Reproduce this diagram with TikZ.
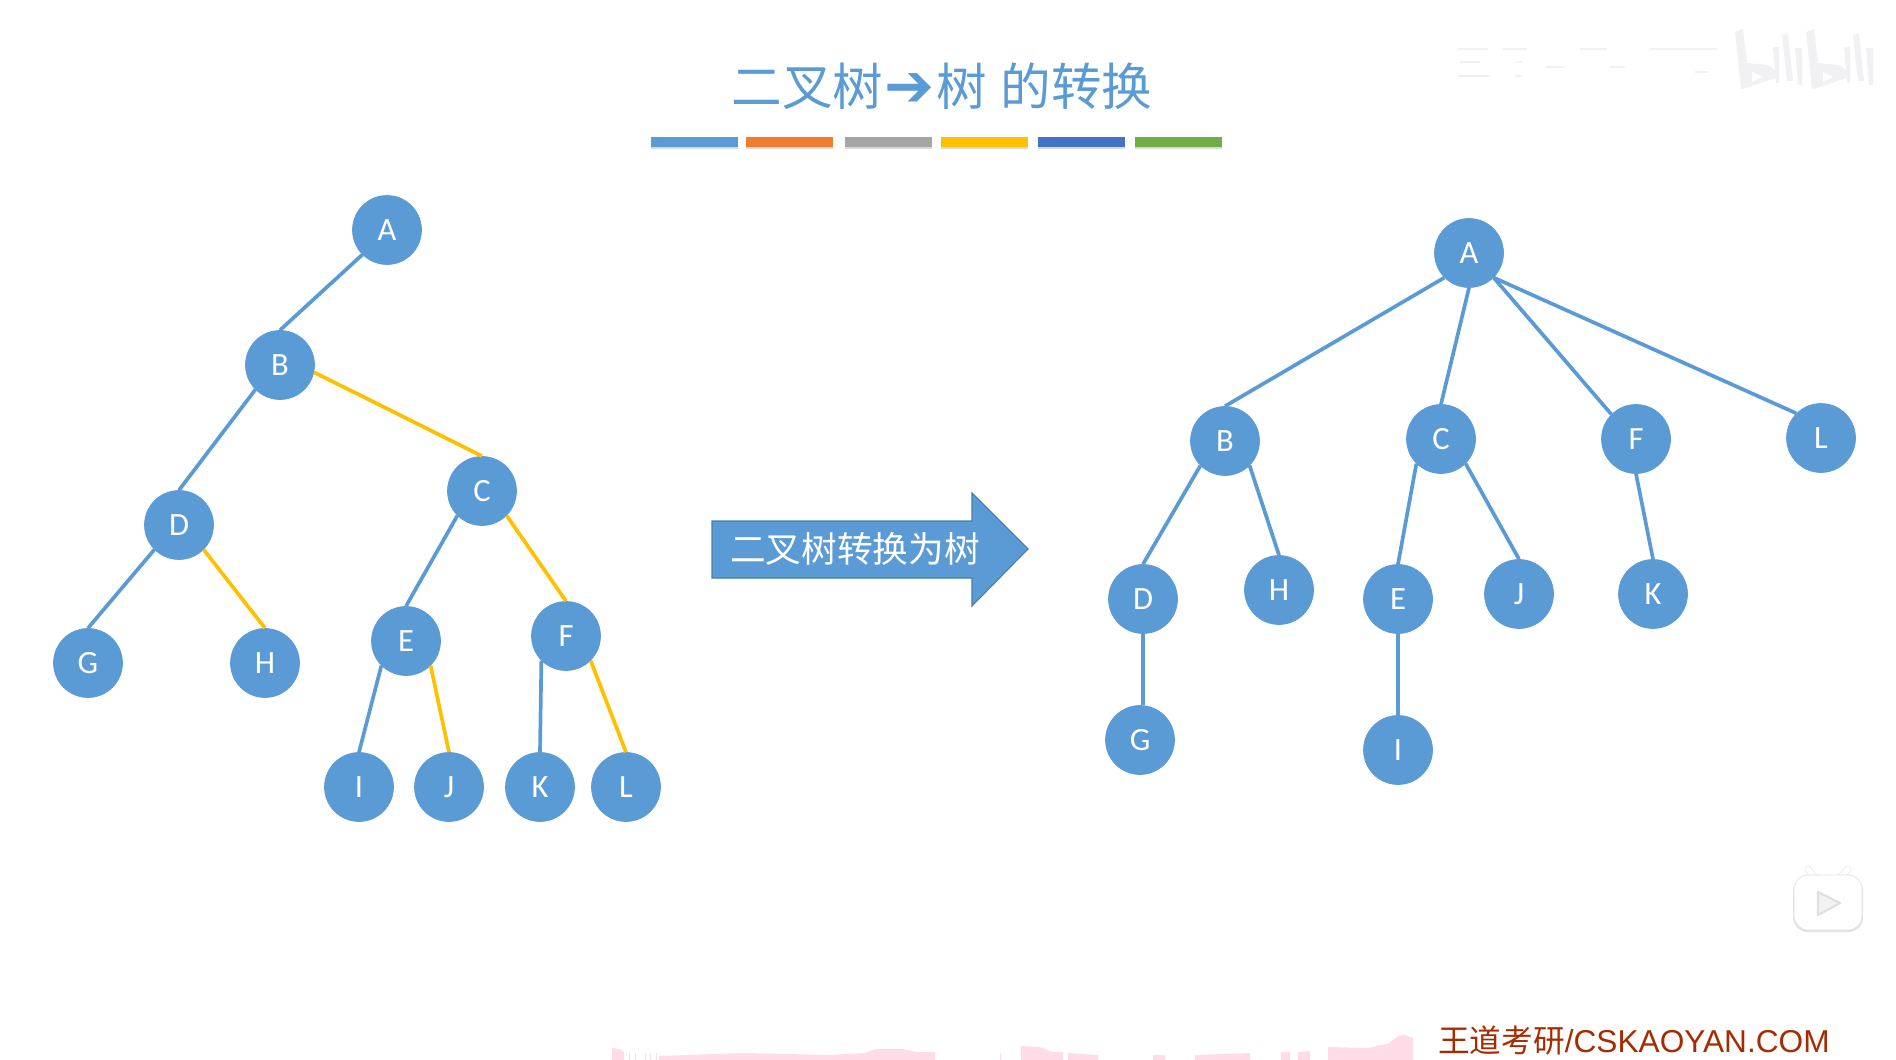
\documentclass[tikz,border=0pt]{standalone}
\usepackage{fontspec}
\usetikzlibrary{shadows}
\setmainfont{Carlito}
\newfontfamily\cjk{Noto Sans CJK SC}
\newfontfamily\arrowfont{DejaVu Sans}
\newfontfamily\footfont{Liberation Sans}
\definecolor{treeblue}{HTML}{5B9BD5}
\definecolor{treeyellow}{HTML}{FFC000}
\definecolor{barorange}{HTML}{ED7D31}
\definecolor{bargrey}{HTML}{A5A5A5}
\definecolor{barblue}{HTML}{4472C4}
\definecolor{bargreen}{HTML}{70AD47}
\definecolor{footred}{HTML}{A62B00}
\definecolor{bandpink}{HTML}{FFDCE8}
\definecolor{markgrey}{HTML}{F1F0F2}
\tikzset{
  vertex/.style={circle,fill=treeblue,draw=treeblue,inner sep=0pt,minimum size=1.38cm,text=white,font=\fontsize{18.5}{18}\selectfont},
  bluelink/.style={draw=treeblue,line width=2.1pt},
  yellowlink/.style={draw=treeyellow,line width=2.1pt},
  titlebar/.style={minimum width=1.74cm,minimum height=.2cm,inner sep=0pt,drop shadow={shadow xshift=0pt,shadow yshift=-1.2pt,opacity=.3}}
}
\begin{document}
\begin{tikzpicture}[x=.02cm,y=-.02cm]
\useasboundingbox (0,0) rectangle (1896,1060);
% watermark
\fill[bandpink] (612,1060) -- (612,1048) -- (620,1049) -- (624,1052) -- (624,1060) -- cycle
  (659,1060) -- (659,1056) -- (744,1053) -- (830,1055) -- (865,1053) -- (876,1049) -- (903,1049) -- (917,1052) -- (935,1052) -- (935,1060) -- cycle
  (1021,1060) -- (1021,1046) -- (1040,1047) -- (1052,1052) -- (1063,1052) -- (1063,1060) -- cycle
  (1068,1060) -- (1068,1053) -- (1098,1055) -- (1098,1060) -- cycle
  (1153,1060) -- (1153,1055) -- (1165,1055) -- (1165,1060) -- cycle
  (1195,1060) -- (1195,1055) -- (1250,1053) -- (1250,1060) -- cycle
  (1281,1060) -- (1281,1052) -- (1290,1052) -- (1290,1060) -- cycle
  (1298,1060) -- (1298,1052) -- (1310,1051) -- (1310,1060) -- cycle
  (1328,1060) -- (1328,1047) -- (1369,1048) -- (1380,1045) -- (1388,1044) -- (1398,1036) -- (1405,1035) -- (1413,1038) -- (1413,1060) -- cycle;
\foreach \px in {629,635,645,650,656,1000}
  \fill[bandpink] (\px,1053) rectangle (\px+1,1060);
\foreach \dx in {0,71} {
  \fill[markgrey] (1735+\dx,32) -- (1743+\dx,29) -- (1747+\dx,63) -- (1767+\dx,65) .. controls (1775+\dx,68) and (1778+\dx,74) .. (1775+\dx,78) -- (1743+\dx,89) -- (1741+\dx,89) -- cycle
    (1773+\dx,47) -- (1779+\dx,47) -- (1779+\dx,83) -- (1776+\dx,83) -- cycle
    (1782+\dx,35) -- (1788+\dx,34) -- (1793+\dx,81) -- (1787+\dx,81) -- cycle
    (1795+\dx,48) -- (1802+\dx,48) -- (1802+\dx,85) -- (1798+\dx,85) -- cycle;
  \fill[white] (1752+\dx,72) -- (1762+\dx,77) -- (1752+\dx,82) -- cycle;
}
\foreach \ya/\xa/\xb in {49/1458/1488,49/1503/1527,49/1580/1607,49/1650/1717,62/1460/1480,62/1515/1522,67/1545/1565,67/1610/1625,76/1458/1490,76/1515/1522,72/1695/1708}
  \draw[markgrey,line width=.8pt] (\xa,\ya) -- (\xb,\ya);
% title
\node (title) at (942,86) {\fontsize{28.8}{29}\selectfont\color{treeblue}\cjk 二叉树\makebox[30pt]{\raisebox{-.5pt}{\fontsize{34}{34}\selectfont\arrowfont ➔}}树\hspace{8pt}的转换};
\node[titlebar,fill=treeblue] (bar1) at (694,142) {};
\node[titlebar,fill=barorange] (bar2) at (789.5,142) {};
\node[titlebar,fill=bargrey] (bar3) at (888,142) {};
\node[titlebar,fill=treeyellow] (bar4) at (984.5,142) {};
\node[titlebar,fill=barblue] (bar5) at (1081,142) {};
\node[titlebar,fill=bargreen] (bar6) at (1178.5,142) {};
% binary tree
\node[vertex] (A) at (387,230) {A};
\node[vertex] (B) at (280,365) {B};
\node[vertex] (C) at (482,491) {C};
\node[vertex] (D) at (179,525) {D};
\node[vertex] (E) at (406,641) {E};
\node[vertex] (F) at (566,636) {F};
\node[vertex] (G) at (88,663) {G};
\node[vertex] (H) at (265,663) {H};
\node[vertex] (I) at (359,787) {I};
\node[vertex] (J) at (449,787) {J};
\node[vertex] (K) at (540,787) {K};
\node[vertex] (L) at (626,787) {L};
\draw[bluelink] (A.south west) -- (B.north);
\draw[bluelink] (B.south west) -- (D.north);
\draw[yellowlink] (B.-12) -- (C.north);
\draw[bluelink] (D.south west) -- (G.north);
\draw[yellowlink] (D.south east) -- (H.north);
\draw[bluelink] (C.south west) -- (E.north);
\draw[yellowlink] (C.south east) -- (F.north);
\draw[bluelink] (E.south west) -- (I.north);
\draw[yellowlink] (E.south east) -- (J.north);
\draw[bluelink] (F.south west) -- (K.north);
\draw[yellowlink] (F.south east) -- (L.north);
% arrow
\fill[treeblue,draw=treeblue!80!black,line width=.6pt] (712,521) -- (972,521) -- (972,493) -- (1028,549) -- (972,606) -- (972,578) -- (712,578) -- cycle;
\node[text=white,font=\fontsize{20.3}{20}\selectfont\cjk] (turn) at (855,549) {二叉树转换为树};
% tree
\node[vertex] (rA) at (1469,253) {A};
\node[vertex] (rB) at (1225,441) {B};
\node[vertex] (rC) at (1441,439) {C};
\node[vertex] (rF) at (1636,439) {F};
\node[vertex] (rL) at (1821,438) {L};
\node[vertex] (rD) at (1143,599) {D};
\node[vertex] (rH) at (1279,590) {H};
\node[vertex] (rE) at (1398,599) {E};
\node[vertex] (rJ) at (1519,594) {J};
\node[vertex] (rK) at (1653,594) {K};
\node[vertex] (rG) at (1140,740) {G};
\node[vertex] (rI) at (1398,750) {I};
\draw[bluelink] (rA.south west) -- (rB.north);
\draw[bluelink] (rA.south) -- (rC.north);
\draw[bluelink] (rA.south east) -- (rF.north west);
\draw[bluelink] (rA.south east) -- (rL.north west);
\draw[bluelink] (rB.south west) -- (rD.north);
\draw[bluelink] (rB.south east) -- (rH.north);
\draw[bluelink] (rC.south west) -- (rE.north);
\draw[bluelink] (rC.south east) -- (rJ.north);
\draw[bluelink] (rF.south) -- (rK.north);
\draw[bluelink] (rD.south) -- (rD.south |- rG.north);
\draw[bluelink] (rE.south) -- (rI.north);
% player icon
\fill[black!30,opacity=.35,rounded corners=8pt] (1793,877) rectangle (1863,932);
\draw[black!10,line width=4pt,line cap=round] (1815,878) -- (1808,869) (1840,878) -- (1848,869);
\draw[white,line width=3.2pt,line cap=round] (1815,878) -- (1808,869) (1840,878) -- (1848,869);
\draw[black!12,line width=.4pt,rounded corners=8pt,fill=white] (1794,875) rectangle (1862,930);
\draw[black!12,fill=black!5,line width=1.2pt,line join=round] (1818,892) -- (1840,903) -- (1818,915) -- cycle;
% footer
\node[anchor=west,inner sep=0pt,text=footred] (site) at (1438,1040) {\fontsize{18}{18}\selectfont{\cjk 王道考研}\footfont/CSKAOYAN.COM};
\end{tikzpicture}
\end{document}
